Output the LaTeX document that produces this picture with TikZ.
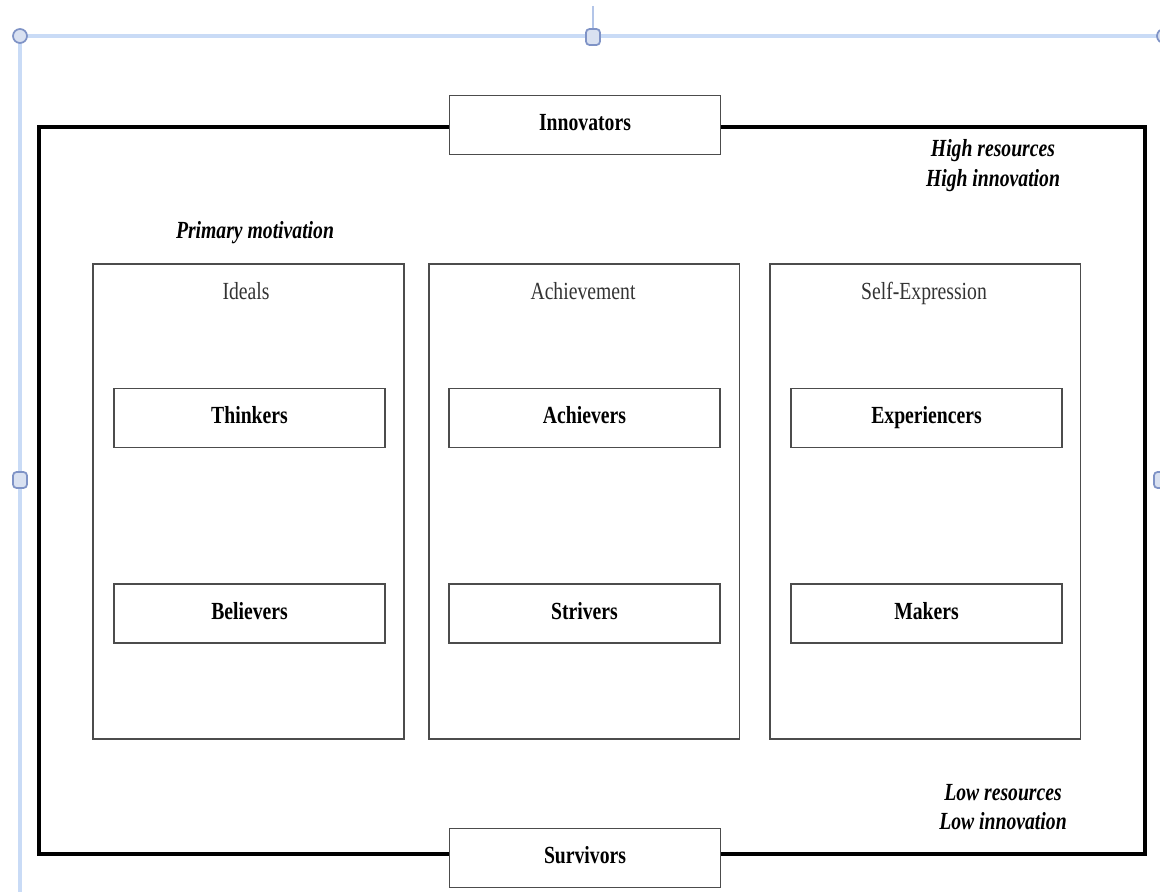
\documentclass[tikz,border=0pt]{standalone}
\usepackage{fontspec}
\setmainfont{Liberation Serif}[FakeStretch=0.8]
\definecolor{selblue}{HTML}{C9DBF6}
\definecolor{handlefill}{HTML}{D9E1F1}
\definecolor{handledraw}{HTML}{7F93C6}
\begin{document}
\begin{tikzpicture}[x=0.02cm, y=-0.02cm,
  every node/.style={font=\fontsize{14}{17}\selectfont, text height=1.5ex, text depth=0.1ex},
  segbox/.style={draw=black!70, line width=1.1pt, fill=white, minimum width=5.42cm, minimum height=1.18cm, inner sep=0pt},
  colbox/.style={draw=black!70, line width=1.1pt, minimum width=6.22cm, minimum height=9.5cm, inner sep=0pt},
  frame/.style={line width=2.6pt},
  selline/.style={draw=selblue, line width=1.8pt},
  handle/.style={draw=handledraw, fill=handlefill, line width=1pt}]
  \useasboundingbox (0,0) rectangle (1160,892);
  % selection handles round the figure
  \draw[selline] (20,36) -- (1160,36);
  \draw[selline] (20,36) -- (20,892);
  \draw[selblue!70!handledraw, line width=0.8pt] (593,6) -- (593,30);
  \draw[handle] (20,36) circle (7);
  \draw[handle] (1164,36) circle (7);
  \draw[handle, rounded corners=2pt] (586,29) rectangle (600,45);
  \draw[handle, rounded corners=2pt] (13,472) rectangle (27,488);
  \draw[handle, rounded corners=2pt] (1154,472) rectangle (1168,488);
  % outer frame
  \draw[frame] (39,127) rectangle (1145,854);
  \node[segbox] (innov) at (585,125) {\textbf{Innovators}};
  \node[segbox] (surv) at (585,858) {\textbf{Survivors}};
  \node[align=center, text height=, text depth=] (high) at (993,166) {\textbf{\textit{High resources}}\\\textbf{\textit{High innovation}}};
  \node[align=center, text height=, text depth=] (low) at (1003,807) {\textbf{\textit{Low resources}}\\\textbf{\textit{Low innovation}}};
  \node (prim) at (255,233) {\textbf{\textit{Primary motivation}}};
  % motivation columns
  \node[colbox] (ideals) at (248.5,501.5) {};
  \node[colbox] (achieve) at (584,501.5) {};
  \node[colbox] (selfexp) at (925,501.5) {};
  \node[black!80] (idealsT) at (246,294) {Ideals};
  \node[black!80] (achieveT) at (583,294) {Achievement};
  \node[black!80] (selfexpT) at (924,294) {Self-Expression};
  % segments
  \node[segbox] (think) at (249.5,418) {\textbf{Thinkers}};
  \node[segbox] (believe) at (249.5,613.5) {\textbf{Believers}};
  \node[segbox] (achiev) at (584.5,418) {\textbf{Achievers}};
  \node[segbox] (striv) at (584.5,613.5) {\textbf{Strivers}};
  \node[segbox] (exper) at (926.5,418) {\textbf{Experiencers}};
  \node[segbox] (maker) at (926.5,613.5) {\textbf{Makers}};
\end{tikzpicture}
\end{document}
